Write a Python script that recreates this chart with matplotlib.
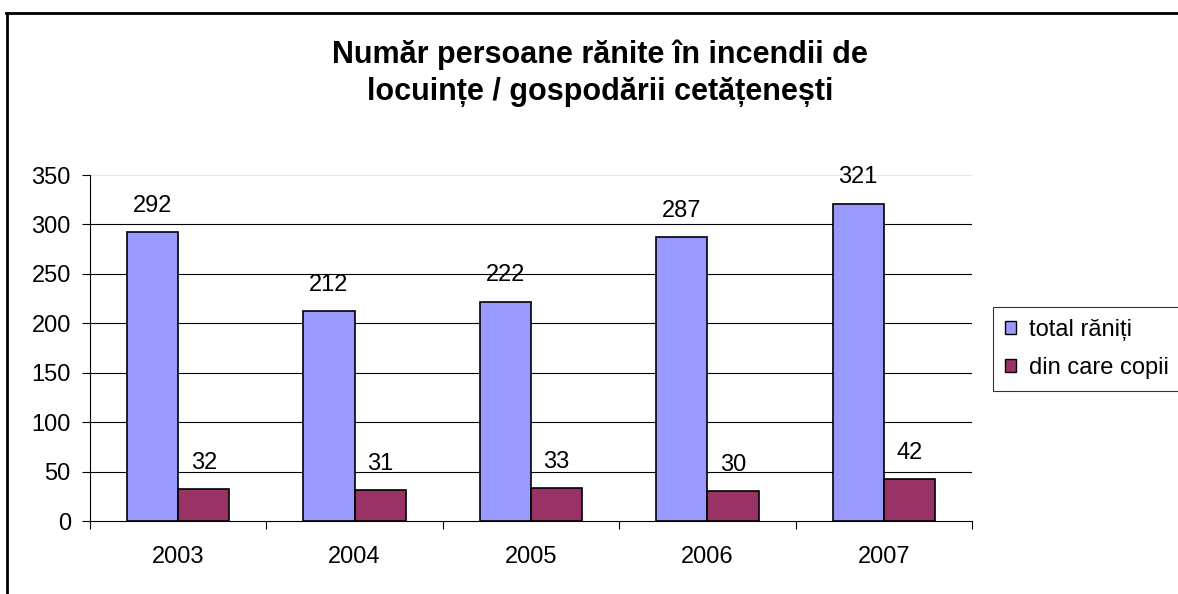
import matplotlib
matplotlib.use("Agg")
import matplotlib.pyplot as plt
import numpy as np
from matplotlib.lines import Line2D
from matplotlib.patches import Patch

years = ["2003", "2004", "2005", "2006", "2007"]
total_raniti = [292, 212, 222, 287, 321]
copii = [32, 31, 33, 30, 42]
series_names = ["total răniți", "din care copii"]
title = "Număr persoane rănite în incendii de\nlocuințe / gospodării cetățenești"

plt.rcParams['font.family'] = ['Liberation Sans', 'DejaVu Sans']
FS = 17

W, H = 1178, 594
fig = plt.figure(figsize=(W / 100, H / 100), dpi=100)

# outer frame (left and top visible)
fig.add_artist(Line2D([7 / W, 7 / W], [0, 1 - 13 / H], transform=fig.transFigure, color='black', lw=2))
fig.add_artist(Line2D([6 / W, 1], [1 - 13 / H, 1 - 13 / H], transform=fig.transFigure, color='black', lw=2))

ax_l, ax_r, ax_b, ax_t = 90, 972, 521, 175
ax = fig.add_axes([ax_l / W, 1 - ax_b / H, (ax_r - ax_l) / W, (ax_b - ax_t) / H])

x = np.arange(len(years))
bw = 0.29
b1 = ax.bar(x - bw / 2, total_raniti, bw, color='#9999FF', edgecolor='black', linewidth=1.2, label=series_names[0], zorder=3)
b2 = ax.bar(x + bw / 2, copii, bw, color='#993366', edgecolor='black', linewidth=1.2, label=series_names[1], zorder=3)

for rects, vals in ((b1, total_raniti), (b2, copii)):
    for r, v in zip(rects, vals):
        ax.annotate(str(v), (r.get_x() + r.get_width() / 2, v), xytext=(0, 11), textcoords='offset points',
                    ha='center', va='bottom', fontsize=FS)

ax.set_xlim(-0.5, len(years) - 0.5)
ax.set_ylim(0, 350)
ax.set_yticks(np.arange(0, 351, 50))
for yv in range(50, 301, 50):
    ax.axhline(yv, color='black', lw=0.8, zorder=1)
ax.axhline(350, color='#e6e6e6', lw=0.8, zorder=1)

ax.set_xticks(np.arange(-0.5, len(years), 1))
ax.set_xticklabels([])
ax.set_xticks(x, minor=True)
ax.set_xticklabels(years, minor=True, fontsize=FS)
ax.tick_params(axis='x', which='major', length=5.8, width=0.8, direction='out')
ax.tick_params(axis='x', which='minor', length=0, pad=18)
ax.tick_params(axis='y', length=5.8, width=0.8, labelsize=FS, pad=8)

for s in ('top', 'right'):
    ax.spines[s].set_visible(False)
ax.spines['left'].set_linewidth(0.8)
ax.spines['bottom'].set_linewidth(0.8)

fig.text(600 / W, 1 - 73 / H, title, ha='center', va='center', fontsize=22, fontweight='bold', linespacing=1.3)

handles = [Patch(facecolor='#9999FF', edgecolor='black'), Patch(facecolor='#993366', edgecolor='black')]
leg = fig.legend(handles, series_names, loc='upper left', bbox_to_anchor=(993 / W, 1 - 307 / H),
                 frameon=True, fancybox=False, edgecolor='black', fontsize=FS,
                 handlelength=0.47, handleheight=0.47, handletextpad=0.55, labelspacing=0.7,
                 borderpad=0.5, borderaxespad=0)
leg.get_frame().set_linewidth(0.8)

fig.savefig("out.png", dpi=100)
